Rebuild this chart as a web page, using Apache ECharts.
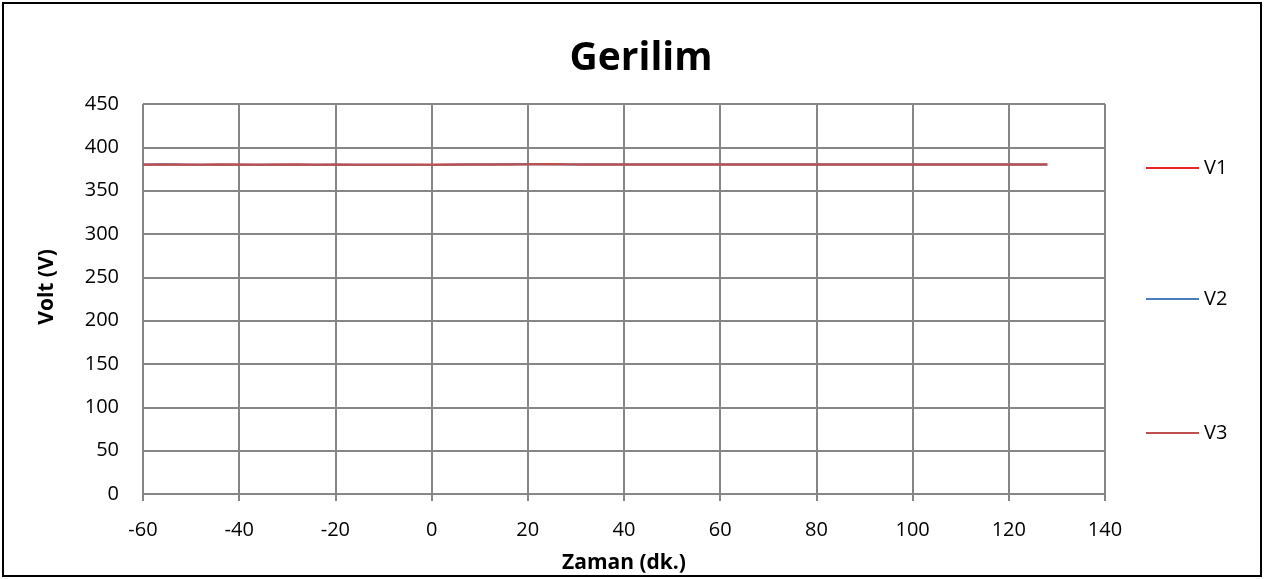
<!DOCTYPE html>
<html>
<head>
<meta charset="utf-8">
<script src="https://cdn.jsdelivr.net/npm/echarts@6/dist/echarts.min.js"></script>
<style>
html,body{margin:0;padding:0;background:#fff;}
#c{width:1265px;height:579px;}
</style>
</head>
<body>
<div id="c"></div>
<script>
// Time in minutes
var times = [-60,-56,-52,-48,-44,-40,-36,-32,-28,-24,-20,-16,-12,-8,-4,0,4,8,12,16,20,24,28,32,36,40,44,48,52,56,60,64,68,72,76,80,84,88,92,96,100,104,108,112,116,120,124,128];
var v1 = [380.1,380.2,380.1,380.0,380.1,380.1,380.0,380.1,380.1,380.0,380.1,380.0,379.9,380.0,379.9,379.8,380.1,380.2,380.3,380.4,380.5,380.7,380.4,380.3,380.3,380.2,380.3,380.3,380.2,380.3,380.3,380.2,380.3,380.2,380.3,380.3,380.2,380.3,380.3,380.2,380.3,380.3,380.3,380.2,380.3,380.3,380.2,380.3];
var v2 = [379.9,380.4,380.1,379.9,380.0,380.0,379.9,380.0,380.0,379.9,380.0,379.9,379.8,379.9,379.8,379.7,380.0,380.1,380.2,380.3,380.4,380.5,380.3,380.2,380.2,380.1,380.2,380.2,380.1,380.2,380.2,380.1,380.2,380.1,380.2,380.2,380.1,380.2,380.2,380.1,380.2,380.2,380.2,380.1,380.2,380.2,380.1,380.2];
var v3 = [380.0,380.1,380.0,380.0,380.1,380.0,380.0,380.0,380.1,380.0,380.0,379.9,379.9,380.0,379.9,379.8,380.0,380.1,380.2,380.3,380.5,380.8,380.4,380.3,380.2,380.2,380.3,380.2,380.2,380.3,380.2,380.2,380.3,380.2,380.2,380.3,380.2,380.2,380.3,380.2,380.2,380.3,380.2,380.2,380.3,380.2,380.2,380.3];
var seriesNames = ['V1','V2','V3'];
var seriesColors = ['#E8262A','#4A7EBB','#C0504D'];
var titleText = 'Gerilim';
var xName = 'Zaman (dk.)';
var yName = 'Volt (V)';

function pairs(arr){ return times.map(function(t,i){ return [t, arr[i]]; }); }
var dataSets = [v1, v2, v3];
var legendTops = [153, 284, 418];

var FONT = 'Open Sans';
var chart = echarts.init(document.getElementById('c'), null, {renderer:'canvas'});
chart.setOption({
  animation:false,
  backgroundColor:'#fff',
  textStyle:{fontFamily:FONT},
  title:{
    text:titleText, left:636, top:34, textAlign:'center',
    textStyle:{fontFamily:FONT, fontSize:39, fontWeight:'bold', color:'#000'}
  },
  graphic:[{
    type:'rect', shape:{x:3,y:3,width:1258,height:573},
    style:{fill:null, stroke:'#000', lineWidth:2}, silent:true
  }],
  legend: seriesNames.map(function(n,i){
    return {
      orient:'vertical', left:1141, top:legendTops[i], itemWidth:53, itemHeight:2, itemGap:0,
      icon:'rect', data:[n],
      textStyle:{fontFamily:FONT, fontSize:20, color:'#000'}
    };
  }),
  grid:{left:143, right:160, top:104, bottom:84, containLabel:false},
  xAxis:{
    type:'value', min:-60, max:140, interval:20,
    name:xName, nameLocation:'middle', nameGap:59,
    nameTextStyle:{fontFamily:FONT, fontSize:21, fontWeight:'bold', color:'#000'},
    axisLine:{onZero:false, lineStyle:{color:'#868686', width:2}},
    axisTick:{show:true, length:7, lineStyle:{color:'#868686', width:2}},
    axisLabel:{fontFamily:FONT, fontSize:20, color:'#000', margin:26},
    splitLine:{show:true, lineStyle:{color:'#868686', width:2}}
  },
  yAxis:{
    type:'value', min:0, max:450, interval:50,
    name:yName, nameLocation:'middle', nameGap:85, nameRotate:90,
    nameTextStyle:{fontFamily:FONT, fontSize:21, fontWeight:'bold', color:'#000', padding:[0,0,0,24]},
    axisLine:{show:true, lineStyle:{color:'#868686', width:2}},
    axisTick:{show:true, length:7, lineStyle:{color:'#868686', width:2}},
    axisLabel:{fontFamily:FONT, fontSize:20, color:'#000', margin:24},
    splitLine:{show:true, lineStyle:{color:'#868686', width:2}}
  },
  series: seriesNames.map(function(n,i){
    return {
      name:n, type:'line', data:pairs(dataSets[i]), symbol:'none', smooth:false,
      lineStyle:{color:seriesColors[i], width:2}, itemStyle:{color:seriesColors[i]}
    };
  })
});
</script>
</body>
</html>
